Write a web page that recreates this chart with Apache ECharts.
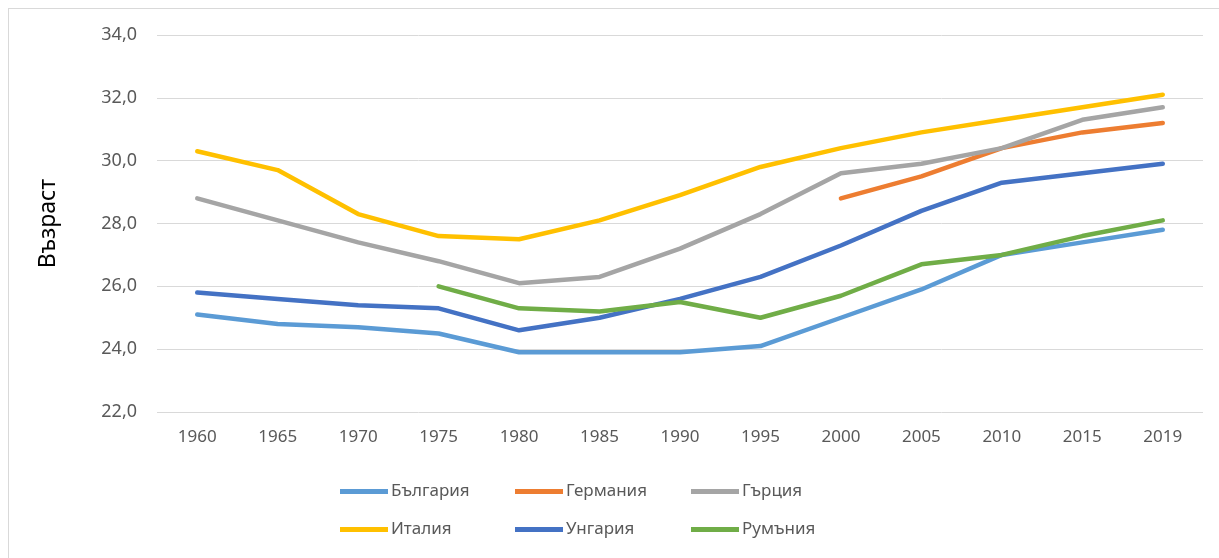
<!DOCTYPE html>
<html>
<head>
<meta charset="utf-8">
<script src="https://cdn.jsdelivr.net/npm/echarts@6/dist/echarts.min.js"></script>
<style>
  html, body { margin: 0; padding: 0; background: #fff; }
  #frame { position: absolute; left: 8px; top: 8px; width: 1215px; height: 560px; border: 1px solid #d9d9d9; box-sizing: border-box; }
  #chart { position: absolute; left: 0; top: 0; width: 1219px; height: 558px; }
</style>
</head>
<body>
<div id="frame"></div>
<div id="chart"></div>
<script>
const years = ['1960', '1965', '1970', '1975', '1980', '1985', '1990', '1995', '2000', '2005', '2010', '2015', '2019'];
const bulgaria = [25.1, 24.8, 24.7, 24.5, 23.9, 23.9, 23.9, 24.1, 25.0, 25.9, 27.0, 27.4, 27.8];
const germany = [null, null, null, null, null, null, null, null, 28.8, 29.5, 30.4, 30.9, 31.2];
const greece = [28.8, 28.1, 27.4, 26.8, 26.1, 26.3, 27.2, 28.3, 29.6, 29.9, 30.4, 31.3, 31.7];
const italy = [30.3, 29.7, 28.3, 27.6, 27.5, 28.1, 28.9, 29.8, 30.4, 30.9, 31.3, 31.7, 32.1];
const hungary = [25.8, 25.6, 25.4, 25.3, 24.6, 25.0, 25.6, 26.3, 27.3, 28.4, 29.3, 29.6, 29.9];
const romania = [null, null, null, 26.0, 25.3, 25.2, 25.5, 25.0, 25.7, 26.7, 27.0, 27.6, 28.1];

const names = ['България', 'Германия', 'Гърция', 'Италия', 'Унгария', 'Румъния'];
const colors = ['#5B9BD5', '#ED7D31', '#A5A5A5', '#FFC000', '#4472C4', '#70AD47'];
const values = [bulgaria, germany, greece, italy, hungary, romania];

const font = 'Noto Sans';
const myChart = echarts.init(document.getElementById('chart'));

// legend: two rows of three, fixed columns
const legendX = [335, 510, 686];
const legendY = [478, 516];
const legends = names.map(function (n, i) {
  return {
    data: [n],
    left: legendX[i % 3],
    top: legendY[Math.floor(i / 3)],
    itemWidth: 48,
    itemHeight: 20,
    itemGap: 4,
    icon: 'path://M0,7.5 L48,7.5 L48,12.5 L0,12.5 Z',
    textStyle: { color: '#595959', fontSize: 17, fontFamily: font, padding: [0, 0, 0, -2] }
  };
});

myChart.setOption({
  animation: false,
  color: colors,
  legend: legends,
  grid: { left: 157, right: 16, top: 35, bottom: 146 },
  xAxis: {
    type: 'category',
    data: years,
    boundaryGap: true,
    axisLine: { show: false },
    axisTick: { show: false },
    axisLabel: { color: '#595959', fontSize: 17, fontFamily: font, margin: 17 }
  },
  yAxis: {
    type: 'value',
    min: 22,
    max: 34,
    interval: 2,
    name: 'Възраст',
    nameLocation: 'middle',
    nameGap: 97,
    nameTextStyle: { color: '#000', fontSize: 23, fontFamily: font },
    axisLabel: {
      color: '#595959', fontSize: 18, fontFamily: font, margin: 20,
      formatter: function (v) { return v.toFixed(1).replace('.', ','); }
    },
    splitLine: { lineStyle: { color: '#d9d9d9', width: 1 } }
  },
  series: names.map(function (n, i) {
    return {
      name: n,
      type: 'line',
      data: values[i],
      showSymbol: false,
      symbol: 'none',
      lineStyle: { width: 4.5, cap: 'round', join: 'round' },
      z: i === 3 ? 3 : 2
    };
  })
});
</script>
</body>
</html>
